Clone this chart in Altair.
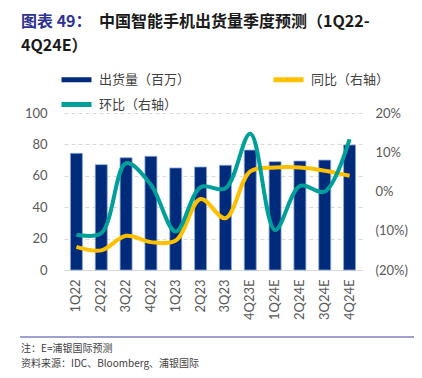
import altair as alt
import pandas as pd

quarters = ["1Q22", "2Q22", "3Q22", "4Q22", "1Q23", "2Q23", "3Q23",
            "4Q23E", "1Q24E", "2Q24E", "3Q24E", "4Q24E"]
shipments = [74.3, 67.1, 71.5, 72.4, 65.0, 65.6, 66.7, 76.4, 69.0, 69.4, 70.0, 79.6]
yoy_pct = [-14.1, -15.0, -11.3, -12.9, -12.5, -1.9, -6.8, 5.1, 6.1, 6.1, 5.3, 4.0]
qoq_pct = [-11.0, -10.6, 7.2, 1.7, -10.2, 1.1, 0.8, 14.7, -9.8, 1.4, 0.0, 13.3]

# legend order (column-major layout): 出货量, 环比 | 同比
series_names = ["出货量（百万）", "环比（右轴）", "同比（右轴）"]
series_colors = ["#002B7A", "#00A09A", "#FFC000"]

bar_df = pd.DataFrame({"quarter": quarters, "shipments": shipments})
line_df = pd.concat([
    pd.DataFrame({"quarter": quarters, "series": "同比（右轴）",
                  "value": [v / 100 for v in yoy_pct]}),
    pd.DataFrame({"quarter": quarters, "series": "环比（右轴）",
                  "value": [v / 100 for v in qoq_pct]}),
])

LABEL_FONT = "Lato"
CJK = "Noto Sans CJK SC"
GRAY = "#595959"

x_enc = alt.X("quarter:N", sort=quarters, title=None,
              scale=alt.Scale(paddingInner=0.5, paddingOuter=0.25),
              axis=alt.Axis(labelAngle=270, labelFont=LABEL_FONT, labelFontSize=13,
                            labelColor=GRAY, ticks=False, domainColor="#D9D9D9",
                            domainWidth=1, labelPadding=9))

bars = alt.Chart(bar_df).mark_bar(size=12, color="#002B7A", stroke="#8EA9DB",
                                  strokeWidth=0.8).encode(
    x=x_enc,
    y=alt.Y("shipments:Q", title=None,
            scale=alt.Scale(domain=[0, 100]),
            axis=alt.Axis(values=[0, 20, 40, 60, 80, 100], labelFont=LABEL_FONT,
                          labelFontSize=13, labelColor=GRAY, domain=False, ticks=False,
                          gridDash=[4, 3], gridColor="#D9D9D9", labelPadding=17)),
)

lines = alt.Chart(line_df).mark_line(strokeWidth=4, interpolate="catmull-rom").encode(
    x=alt.X("quarter:N", sort=quarters, bandPosition=0.5),
    y=alt.Y("value:Q", title=None,
            scale=alt.Scale(domain=[-0.2, 0.2]),
            axis=alt.Axis(orient="right", values=[-0.2, -0.1, 0, 0.1, 0.2],
                          labelExpr="datum.value < -0.0001 ? '(' + format(-datum.value, '.0%') + ')' : format(datum.value, '.0%')",
                          labelFont=LABEL_FONT, labelFontSize=13, labelColor=GRAY,
                          domain=False, ticks=False, grid=False, labelPadding=13)),
    color=alt.Color("series:N",
                    scale=alt.Scale(domain=series_names, range=series_colors),
                    legend=alt.Legend(title=None, orient="none", legendX=4, legendY=-42,
                                      columns=2, columnPadding=72, rowPadding=4,
                                      symbolType="M-2.5,0L2.5,0", symbolSize=144,
                                      symbolStrokeWidth=5, labelFont=CJK,
                                      labelFontSize=13, labelColor="#404040",
                                      labelOffset=14)),
    detail="series:N",
)

one = alt.Data(values=[{"a": 1}])

title1a = alt.Chart(one).mark_text(text="图表 49：", font=CJK, fontSize=16, fontWeight="bold",
                                   color="#2E3192", align="left", baseline="middle").encode(
    x=alt.value(-43), y=alt.value(-91))
title1b = alt.Chart(one).mark_text(text="中国智能手机出货量季度预测（1Q22-", font=CJK, fontSize=16,
                                   fontWeight="bold", color="#1A1A1A", align="left",
                                   baseline="middle").encode(
    x=alt.value(35), y=alt.value(-91))
title2 = alt.Chart(one).mark_text(text="4Q24E）", font=CJK, fontSize=16, fontWeight="bold",
                                  color="#1A1A1A", align="left", baseline="middle").encode(
    x=alt.value(-43), y=alt.value(-67))

footer_rule = alt.Chart(one).mark_rule(color="#8080C0", strokeWidth=1.5).encode(
    x=alt.value(-44), x2=alt.value(358), y=alt.value(224))
note1 = alt.Chart(one).mark_text(text="注：E=浦银国际预测", font=CJK, fontSize=10,
                                 color="#404040", align="left", baseline="middle").encode(
    x=alt.value(-43), y=alt.value(236))
note2 = alt.Chart(one).mark_text(text="资料来源：IDC、Bloomberg、浦银国际", font=CJK, fontSize=10,
                                 color="#404040", align="left", baseline="middle").encode(
    x=alt.value(-43), y=alt.value(251))

chart = alt.layer(bars, lines, title1a, title1b, title2, footer_rule, note1, note2).resolve_scale(
    y="independent"
).properties(
    width=298, height=157,
    autosize=alt.AutoSizeParams(type="none"),
    padding={"left": 56, "top": 105, "right": 52, "bottom": 100},
).configure_view(stroke=None)

chart.save("out.html", embed_options={"renderer": "svg", "actions": False})
